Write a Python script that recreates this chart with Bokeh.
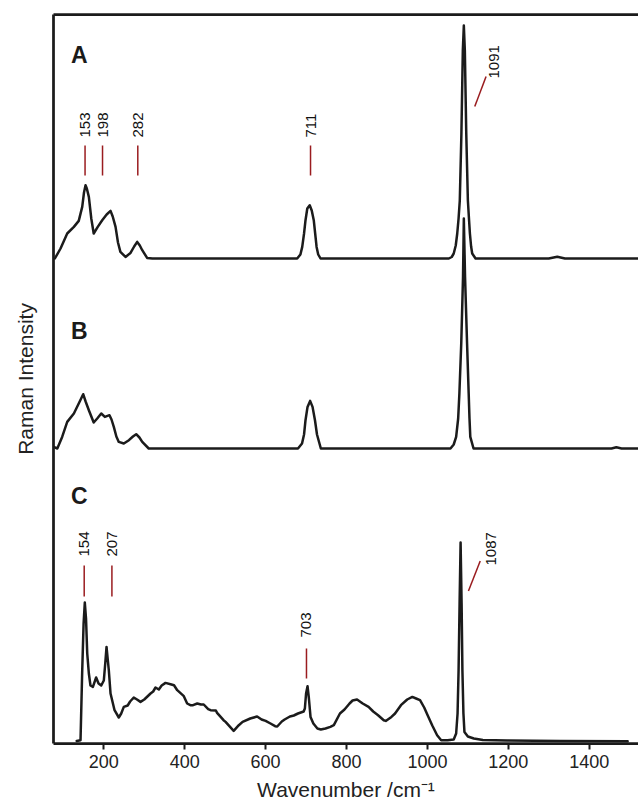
import numpy as np
from math import pi
from bokeh.plotting import figure
from bokeh.models import Range1d, LinearAxis, FixedTicker, Label
from bokeh.embed import file_html
from bokeh.resources import INLINE

# ---------------- data (wavenumber / relative intensity) ----------------
a_wn = [79, 93, 109.5, 126, 138, 146.6, 151, 154.8, 158, 163, 169, 175, 185, 196, 207, 216.6, 222,
        229, 235, 241, 253.6, 266, 275, 282.5, 289, 295, 307, 320, 678, 686, 690.5, 695, 698.6,
        703, 709, 714, 719, 722.5, 726, 730, 735.7, 1053, 1060, 1065, 1070, 1073.7, 1077, 1080,
        1084, 1087.5, 1090, 1092.5, 1096, 1100, 1103, 1105, 1108, 1110.7, 1119, 1300, 1321,
        1340, 1522]
a_int = [0, 10, 25, 31.6, 37.6, 51.6, 66, 73.3, 70, 61.6, 40, 25, 31.6, 38.3, 44, 47.6, 42,
         31.6, 16, 6.6, 1.6, 5.6, 12, 16.6, 13, 8.3, 0.6, 0, 0, 4, 11.6, 25, 38.3,
         50, 53.3, 48, 38.3, 25, 11.6, 4, 0, 0, 1.5, 5, 13, 25, 40, 58,
         125, 208, 233, 208, 125, 58, 38, 25, 12, 5, 0, 0, 1.7,
         0, 0]

b_wn = [76, 85, 97, 109.5, 126, 138, 149, 155, 163, 175, 183.7, 193.6, 202.6, 214, 219, 224.7,
        231, 237, 249.4, 262, 272, 280, 288, 295, 311, 680, 690, 695, 698.6, 703.6, 710, 716,
        722, 727, 736.5, 1057, 1065, 1071, 1076, 1079, 1083.6, 1088, 1090, 1093, 1098, 1102,
        1104, 1106, 1114, 1455, 1467, 1480, 1522]
b_int = [1.6, 0, 11.6, 26.6, 35, 45, 54.3, 47, 38.3, 26, 30, 35, 31.6, 33.3, 29, 21.6,
         12, 6.6, 5, 8.3, 12, 14.3, 11, 6.6, 0, 0, 5, 14, 28.3, 41.6, 47.6, 41.6,
         28.3, 14, 0, 0, 4, 11.6, 30, 55, 105, 171.6, 230, 171.6, 105, 55,
         30, 11.6, 0, 0, 1.2, 0, 0]

c_wn = [133, 142.4, 146.6, 150, 153, 156, 159, 163, 167, 173, 181, 187, 193.6, 200, 203.5, 206.7,
        209.5, 212.4, 216.6, 226.5, 237, 243, 249.4, 259, 265, 274, 282, 290.7, 300, 315.5, 322,
        327.8, 336, 343, 352.5, 365, 373.5, 381.5, 397.8, 406, 414, 420.6, 431, 440, 447, 458,
        463.8, 477, 480, 496, 501, 521, 533.7, 543, 562, 579, 590, 600, 612, 623.5, 628.7, 640,
        647, 660, 669.7, 680, 694, 697, 700, 703.6, 707, 711, 718, 728, 736.5, 748, 760, 768.6,
        783.7, 795, 807.5, 815, 826, 840, 854.5, 866, 878, 892, 897, 911, 920, 934.5, 950, 962.7,
        972, 981.7, 992, 1000.5, 1012, 1024, 1034, 1050, 1065, 1071, 1074.5, 1077, 1079.5, 1082,
        1084.5, 1086.5, 1089, 1091.5, 1100, 1114.7, 1137, 1197, 1329, 1495]
c_int = [2.6, 3.3, 73, 120, 141, 125, 90, 70, 58, 56.6, 66, 60, 58, 63, 80, 96.6,
         85, 73, 50, 33.3, 26, 30, 36.6, 38, 42, 46, 44, 41.6, 44, 50, 52,
         56, 54, 58, 60.6, 59.3, 58.3, 53.3, 47.3, 40, 38.3, 38.3, 40, 39, 39, 34.3,
         33.3, 33, 30.6, 23.3, 21.6, 12.6, 18.3, 21.6, 25, 27, 24, 22.6, 20, 17.3, 17, 22,
         24, 27, 28, 30, 32, 35, 50, 57.3, 45, 26.6, 20, 15, 14, 15, 16.6, 18.3,
         30, 34, 40, 43, 44, 40, 36.6, 32, 28.3, 23.3, 22.6, 26.6, 30, 38.3, 44, 46.6,
         45, 43.3, 36, 28.3, 18, 8.3, 3.3, 3.3, 4, 10, 30, 73, 140, 201,
         140, 73, 30, 11.6, 7, 5, 3.5, 3, 2.6, 2.3]

# peak annotations
a_peak_labels = ["153", "198", "282", "711"]
a_peak_marks = [153.6, 196.8, 284, 711]
c_peak_labels = ["154", "207", "703"]
c_peak_marks = [151.5, 220, 701]
a_main_label = "1091"
c_main_label = "1087"

x_ticks = [200, 400, 600, 800, 1000, 1200, 1400]

# ---------------- layout / style constants ----------------
A_OFF, B_OFF, C_OFF = 485, 295, 0
INK = "#1b1b1b"
RED = "#9a1c1f"
FONT = "Liberation Sans"

p = figure(width=638, height=805, output_backend="svg", toolbar_location=None,
           x_range=Range1d(75.6, 1521.8), y_range=Range1d(0, 729),
           min_border_left=53, min_border_right=0, min_border_top=14, min_border_bottom=62)
p.outline_line_color = None
p.xgrid.visible = False
p.ygrid.visible = False
p.background_fill_color = "white"
p.border_fill_color = "white"

# bottom axis
ax = p.xaxis[0]
ax.ticker = FixedTicker(ticks=x_ticks)
ax.axis_line_width = 2.75
ax.axis_line_color = INK
ax.major_tick_line_width = 2
ax.major_tick_line_color = INK
ax.major_tick_out = 6
ax.major_tick_in = 0
ax.minor_tick_line_color = None
ax.major_label_text_font = FONT
ax.major_label_text_font_size = "18px"
ax.major_label_text_color = "#222222"
ax.major_label_standoff = 5
ax.axis_label = "Wavenumber /cm\u207b\u00b9"
ax.axis_label_text_font = FONT
ax.axis_label_text_font_size = "21px"
ax.axis_label_text_font_style = "normal"
ax.axis_label_text_color = "#222222"
ax.axis_label_standoff = 7

# left axis (line only)
ay = p.yaxis[0]
ay.ticker = FixedTicker(ticks=[])
ay.axis_line_width = 2.75
ay.axis_line_color = INK
ay.major_tick_out = 0
ay.major_tick_in = 0
ay.minor_tick_line_color = None
ay.major_label_text_font_size = "0px"
ay.major_label_standoff = 0
ay.axis_label = "Raman Intensity"
ay.axis_label_text_font = FONT
ay.axis_label_text_font_size = "21px"
ay.axis_label_text_font_style = "normal"
ay.axis_label_text_color = "#222222"
ay.axis_label_standoff = 17

# top border line
top = LinearAxis(ticker=FixedTicker(ticks=[]), axis_line_width=2.75, axis_line_color=INK,
                 major_tick_out=0, major_tick_in=0, minor_tick_line_color=None,
                 major_label_text_font_size="0px", major_label_standoff=0)
p.add_layout(top, "above")

# spectra
for wn, inten, off in ((c_wn, c_int, C_OFF), (b_wn, b_int, B_OFF), (a_wn, a_int, A_OFF)):
    p.line(x=wn, y=np.array(inten) + off, line_color=INK, line_width=2.5,
           line_join="round", line_cap="round")


def vlabel(x, y, t, size="15px"):
    p.add_layout(Label(x=x, y=y, text=t, angle=pi / 2, text_align="left",
                       text_baseline="middle", text_font=FONT,
                       text_font_size=size, text_color="#111111"))


# peak markers and labels - A
for t, xm in zip(a_peak_labels, a_peak_marks):
    p.segment(x0=[xm], y0=[568], x1=[xm], y1=[598], line_color=RED, line_width=1.5)
    vlabel(xm, 606, t)
p.segment(x0=[1117], y0=[637], x1=[1145], y1=[667], line_color=RED, line_width=1.5)
vlabel(1164, 665, a_main_label)

# peak markers and labels - C
for t, xm in zip(c_peak_labels, c_peak_marks):
    if t == "703":
        y0, y1, yt = 65, 95, 106
    else:
        y0, y1, yt = 147, 178, 187
    p.segment(x0=[xm], y0=[y0], x1=[xm], y1=[y1], line_color=RED, line_width=1.5)
    vlabel(xm, yt, t)
p.segment(x0=[1101.4], y0=[152.6], x1=[1130.5], y1=[182.6], line_color=RED, line_width=1.5)
vlabel(1156, 178, c_main_label)

# panel letters
for letter, yb in (("A", 689), ("B", 413), ("C", 248)):
    p.add_layout(Label(x=119, y=yb, text=letter, text_align="left",
                       text_baseline="alphabetic", text_font=FONT,
                       text_font_size="23px", text_font_style="bold", text_color="#1a1a1a"))

open("out.html", "w").write(file_html(p, INLINE))
